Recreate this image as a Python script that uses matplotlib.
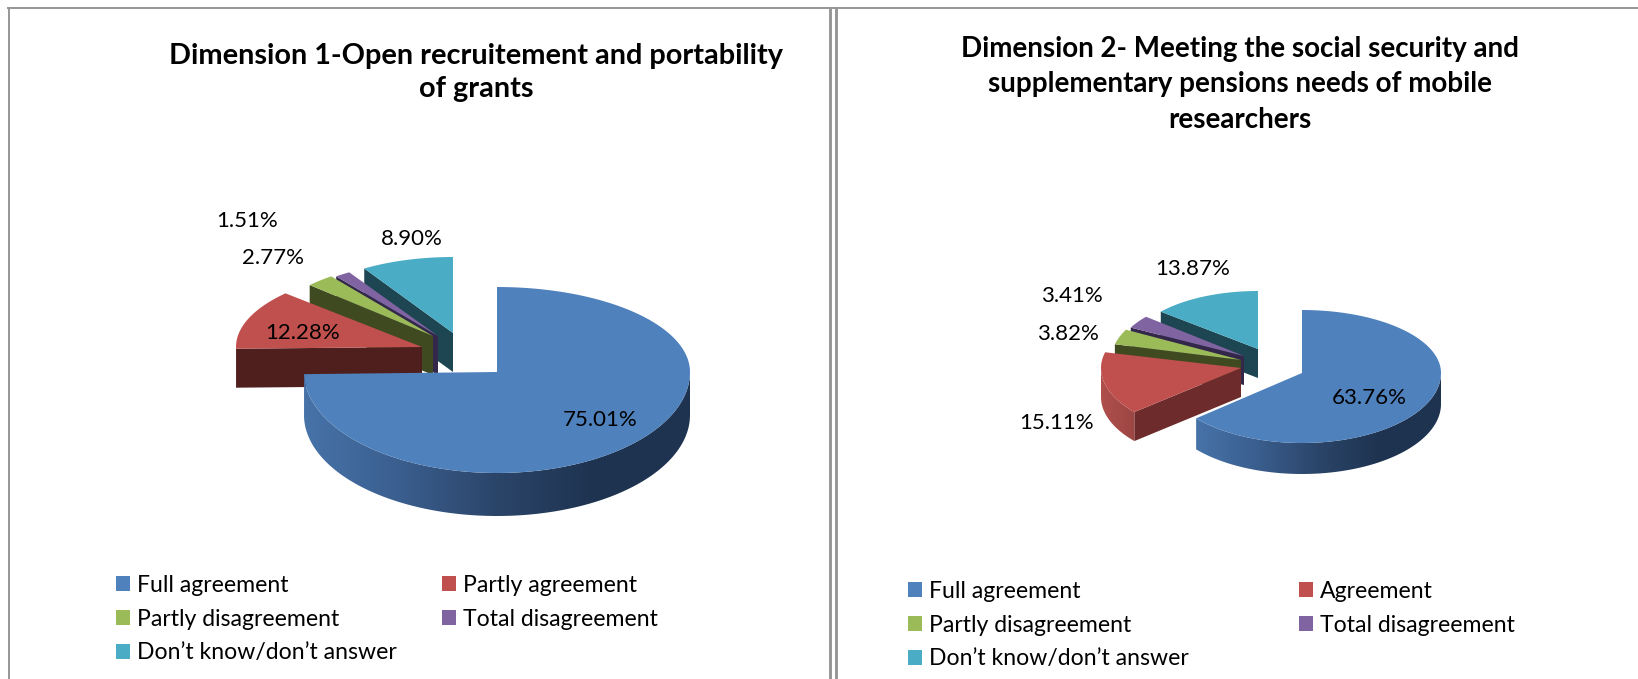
import matplotlib as mpl
mpl.use("Agg")
import matplotlib.pyplot as plt
import numpy as np
from matplotlib.patches import Polygon, Patch

FULL_W, FULL_H = 1638, 679

TITLE_1 = "Dimension 1-Open recruitement and portability\nof grants"
TITLE_2 = "Dimension 2- Meeting the social security and\nsupplementary pensions needs of mobile\nresearchers"
CATEGORIES_1 = ["Full agreement", "Partly agreement", "Partly disagreement", "Total disagreement", "Don\u2019t know/don\u2019t answer"]
CATEGORIES_2 = ["Full agreement", "Agreement", "Partly disagreement", "Total disagreement", "Don\u2019t know/don\u2019t answer"]
VALUES_1 = [75.01, 12.28, 2.77, 1.51, 8.90]
VALUES_2 = [63.76, 15.11, 3.82, 3.41, 13.87]

COLORS = ["#4f81bd", "#c0504d", "#9bbb59", "#8064a2", "#4bacc6"]
CUT_COLORS_1 = ["#1f3552", "#4f1f1e", "#3f4a21", "#33274a", "#1d4552"]
CUT_COLORS_2 = ["#1f3552", "#6e2b2b", "#3f4a21", "#33274a", "#1d4552"]

# per slice layout in pixels: apex x, apex y, radius x, radius up, radius down, depth
LAYOUT_1 = [(497, 372, 193, 85, 101, 43), (422, 347, 186, 79, 79, 39), (433, 336, 168, 75, 75, 39),
            (438, 336, 168, 75, 75, 39), (453, 333, 168, 76, 76, 39)]
LAYOUT_2 = [(1302, 373, 139, 63, 70, 31), (1241, 368, 140, 65, 68, 29), (1241, 360, 130, 65, 65, 29),
            (1244, 356, 128, 61, 61, 29), (1258, 349, 127, 58, 58, 29)]
LABEL_POS_1 = [(600, 420), (303, 333), (273, 258), (247, 221), (412, 239)]
LABEL_POS_2 = [(1369, 398), (1057, 423), (1068, 334), (1072, 296), (1193, 269)]


def arc(x0, y0, rx, ry_up, ry_down, a0, a1):
    # angles are degrees clockwise from 12 o'clock, y axis runs downwards
    a = np.radians(np.linspace(a0, a1, 160))
    ry = np.where(np.cos(a) > 0, ry_up, ry_down)
    return np.column_stack([x0 + rx * np.sin(a), y0 - ry * np.cos(a)])


def gradient_rim(ax, pts, colors, zorder):
    cmap = mpl.colors.LinearSegmentedColormap.from_list("rim", colors)
    poly = Polygon(pts, closed=True, facecolor="none", edgecolor="none", transform=ax.transData)
    ax.add_patch(poly)
    x0, x1 = pts[:, 0].min(), pts[:, 0].max()
    y0, y1 = pts[:, 1].min(), pts[:, 1].max()
    img = ax.imshow(np.linspace(0, 1, 256)[None, :], extent=(x0, x1, y1, y0), cmap=cmap,
                    aspect="auto", zorder=zorder)
    img.set_clip_path(poly)


def draw_pie(ax, values, layout, cut_colors):
    fractions = np.array(values) / sum(values)
    stops = np.concatenate([[0], np.cumsum(fractions) * 360])
    # back slices first so the front ones cover them
    for i in range(len(values) - 1, -1, -1):
        x0, y0, rx, ry_up, ry_down, depth = layout[i]
        a0, a1 = stops[i], stops[i + 1]
        z = 10 + (len(values) - i) * 3
        outer = arc(x0, y0, rx, ry_up, ry_down, a0, a1)
        if i > 0:
            # the cut face on the starting edge looks towards the viewer
            p = outer[0]
            face = [(x0, y0), p, (p[0], p[1] + depth), (x0, y0 + depth)]
            ax.add_patch(Polygon(face, closed=True, facecolor=cut_colors[i], edgecolor="none", zorder=z))
        lo, hi = max(a0, 90), min(a1, 270)
        if lo < hi:
            rim = arc(x0, y0, rx, ry_up, ry_down, lo, hi)
            rim_pts = np.vstack([rim, (rim + [0, depth])[::-1]])
            if i == 0:
                shades = ["#4773a9", "#3a5e8e", "#2b4569", "#1e3350", "#1d3350"]
            else:
                shades = ["#b04f4c", "#9c4644"]
            gradient_rim(ax, rim_pts, shades, z + 1)
        top = np.vstack([[x0, y0], outer])
        ax.add_patch(Polygon(top, closed=True, facecolor=COLORS[i], edgecolor="none", zorder=z + 2))


def draw_panel(ax, title, title_xy, title_size, title_spacing, categories, values, layout, cut_colors,
               label_pos, legend_xy, col_spacing):
    ax.set_xlim(0, FULL_W)
    ax.set_ylim(FULL_H, 0)
    ax.axis("off")
    draw_pie(ax, values, layout, cut_colors)
    for v, (x, y) in zip(values, label_pos):
        ax.text(x, y, f"{v:.2f}%", ha="center", va="center", fontsize=16, color="black", zorder=40)
    ax.text(title_xy[0], title_xy[1], title, ha="center", va="top", fontsize=title_size, fontweight="bold",
            linespacing=title_spacing, zorder=40)
    # matplotlib fills legends by column, the chart reads by row
    order = [0, 2, 4, 1, 3]
    handles = [Patch(facecolor=COLORS[i], edgecolor="none", label=categories[i]) for i in order]
    ax.legend(handles=handles, loc="upper left", bbox_to_anchor=legend_xy, bbox_transform=ax.transData, ncol=2,
              frameon=False, fontsize=16.6, handlelength=0.61, handleheight=0.61, handletextpad=0.3,
              labelspacing=0.55, columnspacing=col_spacing, borderpad=0, borderaxespad=0)


plt.rcParams["font.family"] = ["Lato", "DejaVu Sans"]
fig = plt.figure(figsize=(FULL_W / 100, FULL_H / 100), dpi=100)
ax_left = fig.add_axes([0, 0, 1, 1])
ax_right = fig.add_axes([0, 0, 1, 1])
ax_right.patch.set_alpha(0)

draw_panel(ax_left, TITLE_1, (476, 43), 20.8, 1.32, CATEGORIES_1, VALUES_1, LAYOUT_1, CUT_COLORS_1,
           LABEL_POS_1, (116, 575), 1.95)
draw_panel(ax_right, TITLE_2, (1240, 36), 20, 1.45, CATEGORIES_2, VALUES_2, LAYOUT_2, CUT_COLORS_2,
           LABEL_POS_2, (908, 581), 4.8)

# panel frames
ax_left.plot([9, 9], [FULL_H, 8], color="#969696", linewidth=1.4, zorder=50)
ax_left.plot([8, FULL_W], [8, 8], color="#969696", linewidth=1.4, zorder=50)
ax_left.plot([830, 830], [8, FULL_H], color="#969696", linewidth=2.1, zorder=50)
ax_left.plot([835.5, 835.5], [8, FULL_H], color="#969696", linewidth=2.1, zorder=50)

fig.savefig("out.png", dpi=100)
